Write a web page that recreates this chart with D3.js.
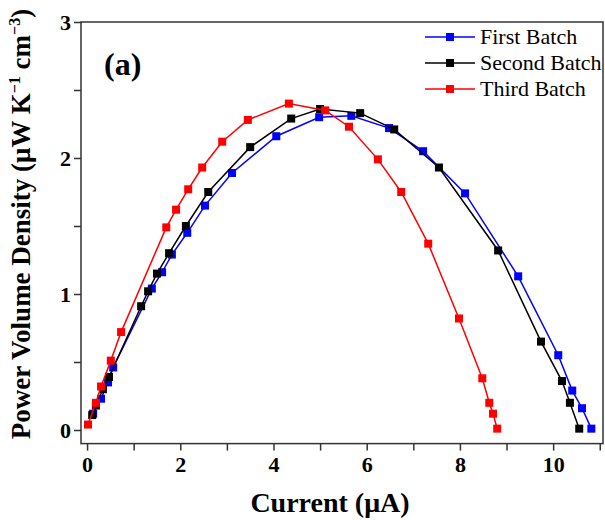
<!DOCTYPE html>
<html>
<head>
<meta charset="utf-8">
<script src="https://cdn.jsdelivr.net/npm/d3@7"></script>
<style>
  body { margin: 0; background: #fff; }
  text { font-family: "Liberation Serif", "Times New Roman", serif; }
</style>
</head>
<body>
<div class="chart"></div>
<script>
// data
var firstX  = [0.13, 0.30, 0.45, 0.56, 1.39, 1.61, 1.82, 2.15, 2.53, 3.11, 4.06, 4.98, 5.67, 6.48, 7.21, 8.11, 9.25, 10.11, 10.41, 10.62, 10.82];
var firstY  = [0.12, 0.23, 0.35, 0.46, 1.04, 1.16, 1.29, 1.45, 1.65, 1.89, 2.16, 2.30, 2.31, 2.22, 2.05, 1.74, 1.13, 0.55, 0.29, 0.16, 0.01];
var secondX = [0.11, 0.19, 0.34, 0.47, 1.16, 1.31, 1.50, 1.76, 2.12, 2.60, 3.50, 4.38, 5.00, 5.86, 6.59, 7.55, 8.82, 9.74, 10.19, 10.36, 10.56];
var secondY = [0.11, 0.18, 0.30, 0.39, 0.91, 1.02, 1.15, 1.30, 1.50, 1.75, 2.08, 2.29, 2.36, 2.33, 2.21, 1.93, 1.32, 0.65, 0.36, 0.20, 0.01];
var thirdX  = [0.02, 0.19, 0.30, 0.51, 0.73, 1.70, 1.91, 2.17, 2.47, 2.90, 3.45, 4.33, 5.11, 5.62, 6.24, 6.74, 7.32, 7.98, 8.48, 8.63, 8.71, 8.80];
var thirdY  = [0.04, 0.20, 0.32, 0.51, 0.72, 1.49, 1.62, 1.77, 1.93, 2.12, 2.28, 2.40, 2.35, 2.23, 1.99, 1.75, 1.37, 0.82, 0.38, 0.20, 0.12, 0.01];
var seriesNames = ["First Batch", "Second Batch", "Third Batch"];
var seriesColors = ["#0000ff", "#000000", "#ff0000"];
var xTicks = [0, 2, 4, 6, 8, 10];
var yTicks = [0, 1, 2, 3];

var svgWidth = 605;
var svgHeight = 520;
var plot = { left: 81, right: 603, top: 22, bottom: 443.6 };

var svg = d3.select(".chart")
    .append("svg")
    .attr("width", svgWidth)
    .attr("height", svgHeight);

var xScale = d3.scaleLinear()
    .domain([-0.13, 11.07])
    .range([plot.left, plot.right]);

var yScale = d3.scaleLinear()
    .domain([-0.1, 3])
    .range([plot.bottom, plot.top]);

// axes
var bottomAxis = d3.axisBottom(xScale)
    .tickValues(d3.range(0, 12, 1))
    .tickSize(7)
    .tickFormat(d => xTicks.includes(d) ? d : "");
var leftAxis = d3.axisLeft(yScale)
    .tickValues(d3.range(0, 3.01, 0.5))
    .tickSize(7)
    .tickFormat(d => yTicks.includes(d) ? d : "");

var gx = svg.append("g")
    .attr("transform", `translate(0, ${plot.bottom})`)
    .call(bottomAxis);
gx.select(".domain").remove();
gx.selectAll("line").attr("stroke", "#333").attr("stroke-width", 1.5);
gx.selectAll("text")
    .attr("y", 13)
    .attr("dy", "0.71em")
    .attr("fill", "#000")
    .style("font-size", "22px")
    .style("font-weight", "bold")
    .style("font-family", "Liberation Serif, serif");

var gy = svg.append("g")
    .attr("transform", `translate(${plot.left}, 0)`)
    .call(leftAxis);
gy.select(".domain").remove();
gy.selectAll("line").attr("stroke", "#333").attr("stroke-width", 1.5);
gy.selectAll("text")
    .attr("x", -10)
    .attr("fill", "#000")
    .style("font-size", "22px")
    .style("font-weight", "bold")
    .style("font-family", "Liberation Serif, serif");

// frame
svg.append("rect")
    .attr("x", plot.left)
    .attr("y", plot.top)
    .attr("width", plot.right - plot.left)
    .attr("height", plot.bottom - plot.top)
    .attr("fill", "none")
    .attr("stroke", "#333")
    .attr("stroke-width", 1.5);

// series
var series = [
    { name: seriesNames[0], color: seriesColors[0], pts: firstX.map((x, i) => [x, firstY[i]]) },
    { name: seriesNames[1], color: seriesColors[1], pts: secondX.map((x, i) => [x, secondY[i]]) },
    { name: seriesNames[2], color: seriesColors[2], pts: thirdX.map((x, i) => [x, thirdY[i]]) }
];

var line = d3.line()
    .x(d => xScale(d[0]))
    .y(d => yScale(d[1]));

var ms = 8;
series.forEach(function(s) {
    svg.append("path")
        .datum(s.pts)
        .attr("d", line)
        .attr("fill", "none")
        .attr("stroke", s.color)
        .attr("stroke-width", 1.5);

    svg.selectAll(null)
        .data(s.pts)
        .enter()
        .append("rect")
        .attr("x", d => xScale(d[0]) - ms / 2)
        .attr("y", d => yScale(d[1]) - ms / 2)
        .attr("width", ms)
        .attr("height", ms)
        .attr("fill", s.color);
});

// legend
var legend = svg.append("g");
series.forEach(function(s, i) {
    var ly = 37 + i * 26;
    legend.append("line")
        .attr("x1", 425).attr("x2", 475)
        .attr("y1", ly).attr("y2", ly)
        .attr("stroke", s.color)
        .attr("stroke-width", 1.5);
    legend.append("rect")
        .attr("x", 450 - ms / 2).attr("y", ly - ms / 2)
        .attr("width", ms).attr("height", ms)
        .attr("fill", s.color);
    legend.append("text")
        .attr("x", 480)
        .attr("y", ly + 7)
        .style("font-size", "22px")
        .text(s.name);
});

// panel label
svg.append("text")
    .attr("x", 104)
    .attr("y", 75)
    .style("font-size", "32px")
    .style("font-weight", "bold")
    .text("(a)");

// axis titles
svg.append("text")
    .attr("x", 330)
    .attr("y", 512)
    .attr("text-anchor", "middle")
    .style("font-size", "28px")
    .style("font-weight", "bold")
    .text("Current (\u03bcA)");

var yTitle = svg.append("text")
    .attr("transform", "translate(30, 224) rotate(-90)")
    .attr("text-anchor", "middle")
    .style("font-size", "27px")
    .style("font-weight", "bold");
yTitle.append("tspan").text("Power Volume Density (\u03bcW K");
yTitle.append("tspan").attr("dy", -10).style("font-size", "16px").text("\u22121");
yTitle.append("tspan").attr("dy", 10).text(" cm");
yTitle.append("tspan").attr("dy", -10).style("font-size", "16px").text("\u22123");
yTitle.append("tspan").attr("dy", 10).text(")");
</script>
</body>
</html>
